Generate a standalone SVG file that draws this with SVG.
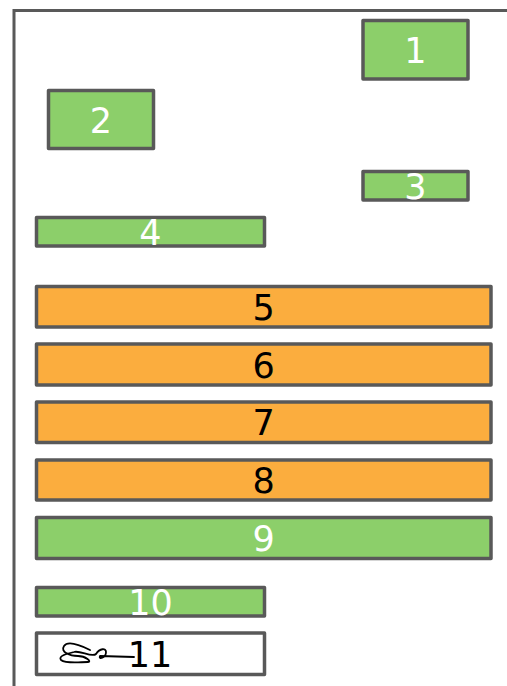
<svg xmlns="http://www.w3.org/2000/svg" width="507" height="686" viewBox="0 0 507 686">
<style>
.b{stroke:#595959;stroke-width:3.5;stroke-linejoin:round}
.g{fill:#8ccf6a}
.o{fill:#fbad3e}
.w{fill:#ffffff}
.t{font-family:"DejaVu Sans",Verdana,sans-serif;font-size:35px;text-anchor:middle}
.tw{fill:#ffffff}
.tk{fill:#000000}
</style>
<rect width="507" height="686" fill="#ffffff"/>
<path d="M14,690 L14,10.5 L510,10.5" fill="none" stroke="#595959" stroke-width="3"/>
<g id="node1"><rect class="b g" x="363" y="20.5" width="105" height="58.5"/><text class="t tw" x="415.5" y="62.5">1</text></g>
<g id="node2"><rect class="b g" x="48.5" y="90.5" width="105" height="58"/><text class="t tw" x="101" y="132.5">2</text></g>
<g id="node3"><rect class="b g" x="363" y="171.5" width="105" height="28.5"/><text class="t tw" x="415.5" y="198.5">3</text></g>
<g id="node4"><rect class="b g" x="36.5" y="217.5" width="228" height="28.5"/><text class="t tw" x="150.5" y="244.5">4</text></g>
<g id="node5"><rect class="b o" x="36.5" y="286.5" width="454.5" height="40.5"/><text class="t tk" x="263.75" y="320">5</text></g>
<g id="node6"><rect class="b o" x="36.5" y="344" width="454.5" height="41"/><text class="t tk" x="263.75" y="377.5">6</text></g>
<g id="node7"><rect class="b o" x="36.5" y="402" width="454.5" height="40.5"/><text class="t tk" x="263.75" y="435">7</text></g>
<g id="node8"><rect class="b o" x="36.5" y="460" width="454.5" height="40"/><text class="t tk" x="263.75" y="493">8</text></g>
<g id="node9"><rect class="b g" x="36.5" y="517.5" width="454.5" height="41"/><text class="t tw" x="263.75" y="551">9</text></g>
<g id="node10"><rect class="b g" x="36.5" y="587.5" width="228" height="28.5"/><text class="t tw" x="150.5" y="614.5">10</text></g>
<g id="node11"><rect class="b w" x="36.5" y="633" width="228" height="41.5"/>
<path d="M90,650 C80,645 68,640 64,646 C60,652 70,656 78,656 C86,656 92,662 88,662 C80,662 66,664 61,660 C58,656 66,654 74,652 C80,650 92,658 96,654 C100,648 106,648 106,652 C106,658 98,660 100,656 L134,657" fill="none" stroke="#000000" stroke-width="1.8" stroke-linecap="round" stroke-linejoin="round"/>
<text class="t tk" x="150" y="667">11</text></g>
<g id="connectors"></g>
</svg>
